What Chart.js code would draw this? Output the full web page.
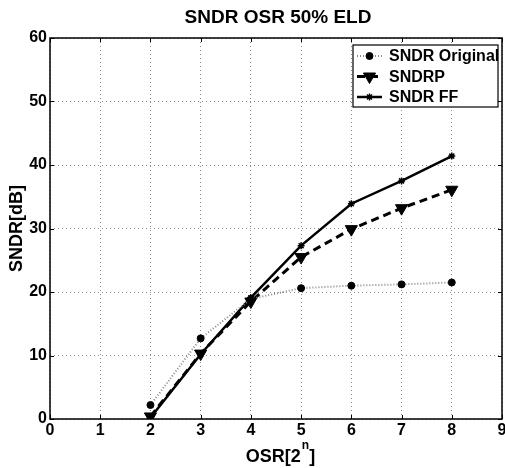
<!DOCTYPE html>
<html>
<head>
<meta charset="utf-8">
<script src="https://cdn.jsdelivr.net/npm/chart.js@4.4.1/dist/chart.umd.min.js"></script>
<style>
  html, body { margin: 0; padding: 0; background: #fff; }
  #wrap { width: 505px; height: 468px; }
</style>
</head>
<body>
<div id="wrap"><canvas id="grafico"></canvas></div>
<script>
const osr = [2, 3, 4, 5, 6, 7, 8];
const sndrOriginal = [2.2, 12.7, 18.9, 20.6, 21.0, 21.2, 21.5];
const sndrP = [0.4, 10.3, 18.5, 25.5, 29.9, 33.2, 36.1];
const sndrFF = [0.2, 10.2, 19.1, 27.3, 33.9, 37.5, 41.4];
const xTicks = [0, 1, 2, 3, 4, 5, 6, 7, 8, 9];
const yTicks = [0, 10, 20, 30, 40, 50, 60];
const legendas = ['SNDR Original', 'SNDRP', 'SNDR FF'];
const titulo = 'SNDR OSR 50% ELD';

const fonte = '"Liberation Sans", Arial, Helvetica, sans-serif';

function pontos(valores) {
    return osr.map((x, i) => ({ x: x, y: valores[i] }));
}

function fixarTamanho(w, h) {
    return function (scale) {
        if (w) scale.width = w;
        if (h) scale.height = h;
        scale.paddingLeft = 0;
        scale.paddingRight = 0;
        scale.paddingTop = 0;
        scale.paddingBottom = 0;
    };
}

// moldura, ticks internos, legenda e titulos
const moldura = {
    id: 'moldura',
    afterLayout(chart) {
        // a area do grafico vai ate 3px da borda direita
        const a = chart.chartArea;
        const sx = chart.scales.x;
        a.right = chart.width - 3;
        a.width = a.right - a.left;
        sx.right = a.right;
        sx.width = a.width;
        sx.configure();
    },
    afterDraw(chart) {
        const ctx = chart.ctx;
        const a = chart.chartArea;
        const sx = chart.scales.x;
        const sy = chart.scales.y;
        const meio = (a.left + a.right) / 2;
        ctx.save();
        ctx.strokeStyle = '#000';
        ctx.lineWidth = 1.5;
        ctx.strokeRect(a.left, a.top, a.right - a.left, a.bottom - a.top);

        ctx.lineWidth = 1;
        ctx.beginPath();
        xTicks.forEach(v => {
            const px = Math.round(sx.getPixelForValue(v)) + 0.5;
            ctx.moveTo(px, a.bottom); ctx.lineTo(px, a.bottom - 4);
            ctx.moveTo(px, a.top); ctx.lineTo(px, a.top + 4);
        });
        yTicks.forEach(v => {
            const py = Math.round(sy.getPixelForValue(v)) + 0.5;
            ctx.moveTo(a.left, py); ctx.lineTo(a.left + 4, py);
            ctx.moveTo(a.right, py); ctx.lineTo(a.right - 4, py);
        });
        ctx.stroke();

        // legenda
        const bx = a.right - 149, by = a.top + 7, bw = 145, bh = 62;
        ctx.fillStyle = '#fff';
        ctx.fillRect(bx, by, bw, bh);
        ctx.lineWidth = 1.2;
        ctx.strokeStyle = '#000';
        ctx.strokeRect(bx, by, bw, bh);
        chart.data.datasets.forEach((ds, i) => {
            const yy = by + 11 + i * 20.5;
            ctx.save();
            ctx.strokeStyle = ds.borderColor;
            ctx.lineWidth = ds.borderWidth;
            ctx.setLineDash(ds.borderDash || []);
            ctx.beginPath();
            ctx.moveTo(bx + 4, yy);
            ctx.lineTo(bx + 29, yy);
            ctx.stroke();
            ctx.restore();
            ctx.save();
            ctx.fillStyle = ds.pointBackgroundColor;
            ctx.strokeStyle = ds.pointBorderColor;
            ctx.lineWidth = ds.pointBorderWidth;
            Chart.helpers.drawPoint(ctx, {
                pointStyle: ds.pointStyle,
                radius: ds.pointRadius,
                rotation: ds.pointRotation || 0,
                borderWidth: ds.pointBorderWidth
            }, bx + 16.5, yy);
            ctx.restore();
            ctx.fillStyle = '#000';
            ctx.font = 'bold 16px ' + fonte;
            ctx.textBaseline = 'middle';
            ctx.fillText(legendas[i], bx + 36, yy + 1);
        });

        // titulo principal
        ctx.fillStyle = '#000';
        ctx.textAlign = 'center';
        ctx.textBaseline = 'middle';
        ctx.font = 'bold 19px ' + fonte;
        ctx.fillText(titulo, meio + 2, 18);

        // titulo do eixo x com expoente
        ctx.textAlign = 'left';
        ctx.textBaseline = 'alphabetic';
        ctx.font = 'bold 18px ' + fonte;
        const p1 = 'OSR[2', p3 = ']';
        const w1 = ctx.measureText(p1).width;
        const w3 = ctx.measureText(p3).width;
        ctx.font = 'bold 12px ' + fonte;
        const w2 = ctx.measureText('n').width;
        let x0 = meio - (w1 + w2 + w3) / 2 + 4;
        ctx.font = 'bold 18px ' + fonte;
        ctx.fillText(p1, x0, 462);
        ctx.font = 'bold 12px ' + fonte;
        ctx.fillText('n', x0 + w1 + 1, 449);
        ctx.font = 'bold 18px ' + fonte;
        ctx.fillText(p3, x0 + w1 + w2 + 1, 462);
        ctx.restore();
    }
};

new Chart(document.getElementById('grafico'), {
    type: 'line',
    data: {
        datasets: [{
            label: legendas[0],
            data: pontos(sndrOriginal),
            borderColor: '#8a8a8a',
            borderWidth: 2,
            borderDash: [1, 2],
            pointStyle: 'circle',
            pointRadius: 3.5,
            pointBackgroundColor: '#000',
            pointBorderColor: '#000',
            pointBorderWidth: 1
        }, {
            label: legendas[1],
            data: pontos(sndrP),
            borderColor: '#000',
            borderWidth: 3,
            borderDash: [8, 5],
            pointStyle: 'triangle',
            pointRotation: 180,
            pointRadius: 7,
            pointBackgroundColor: '#000',
            pointBorderColor: '#000',
            pointBorderWidth: 1
        }, {
            label: legendas[2],
            data: pontos(sndrFF),
            borderColor: '#000',
            borderWidth: 2.5,
            pointStyle: 'star',
            pointRadius: 3.5,
            pointBackgroundColor: '#000',
            pointBorderColor: '#000',
            pointBorderWidth: 1.5
        }]
    },
    options: {
        responsive: true,
        maintainAspectRatio: false,
        animation: false,
        layout: { padding: { left: 0, right: 3, top: 38, bottom: 0 } },
        plugins: {
            legend: { display: false },
            tooltip: { enabled: false },
            title: { display: false }
        },
        scales: {
            x: {
                type: 'linear',
                min: xTicks[0],
                max: xTicks[xTicks.length - 1],
                afterFit: fixarTamanho(0, 49),
                afterBuildTicks: s => { s.ticks = xTicks.map(v => ({ value: v })); },
                ticks: {
                    color: '#000',
                    padding: 2,
                    maxRotation: 0,
                    font: { family: fonte, size: 16, weight: 'bold' }
                },
                grid: { color: '#8a8a8a', lineWidth: 1, drawTicks: false },
                border: { display: false, dash: [1, 3] }
            },
            y: {
                min: yTicks[0],
                max: yTicks[yTicks.length - 1],
                afterFit: fixarTamanho(50, 0),
                afterBuildTicks: s => { s.ticks = yTicks.map(v => ({ value: v })); },
                ticks: {
                    color: '#000',
                    padding: 3,
                    font: { family: fonte, size: 16, weight: 'bold' }
                },
                grid: { color: '#8a8a8a', lineWidth: 1, drawTicks: false },
                border: { display: false, dash: [1, 3] },
                title: {
                    display: true,
                    text: 'SNDR[dB]',
                    color: '#000',
                    font: { family: fonte, size: 18, weight: 'bold', lineHeight: 1.2 },
                    padding: { top: 6, bottom: 0 }
                }
            }
        }
    },
    plugins: [moldura]
});
</script>
</body>
</html>
